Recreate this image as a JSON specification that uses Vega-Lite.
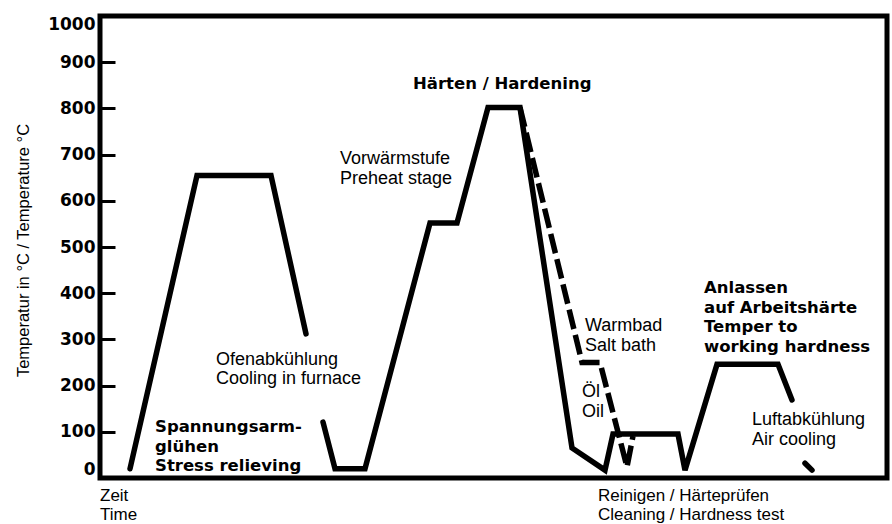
{
  "$schema": "https://vega.github.io/schema/vega-lite/v6.json",
  "width": 787,
  "height": 462,
  "autosize": "none",
  "padding": {"left": 100, "top": 16, "right": 5, "bottom": 46},
  "background": "white",
  "config": {
    "view": {"stroke": "black", "strokeWidth": 5},
    "font": "Liberation Sans"
  },
  "datasets": {
    "solid": [
      {"seg": "A", "t": 30, "temp": 20},
      {"seg": "A", "t": 97, "temp": 655},
      {"seg": "A", "t": 171, "temp": 655},
      {"seg": "A", "t": 206, "temp": 312},
      {"seg": "B", "t": 223, "temp": 121},
      {"seg": "B", "t": 235, "temp": 20},
      {"seg": "B", "t": 265, "temp": 20},
      {"seg": "B", "t": 330, "temp": 552},
      {"seg": "B", "t": 357, "temp": 552},
      {"seg": "B", "t": 388, "temp": 802},
      {"seg": "B", "t": 420, "temp": 802},
      {"seg": "B", "t": 472, "temp": 65},
      {"seg": "B", "t": 505, "temp": 17},
      {"seg": "B", "t": 513, "temp": 95},
      {"seg": "B", "t": 578, "temp": 95},
      {"seg": "B", "t": 585, "temp": 17},
      {"seg": "B", "t": 617, "temp": 246},
      {"seg": "B", "t": 678, "temp": 246},
      {"seg": "B", "t": 692, "temp": 169},
      {"seg": "C", "t": 705, "temp": 32},
      {"seg": "C", "t": 712, "temp": 17}
    ],
    "dashed": [
      {"seg": "D", "t": 420, "temp": 802},
      {"seg": "D", "t": 482, "temp": 250},
      {"seg": "D", "t": 500, "temp": 250},
      {"seg": "D", "t": 527, "temp": 24},
      {"seg": "D", "t": 533, "temp": 91}
    ],
    "labels": [
      {"t": 116, "temp": 256, "text": "Ofenabkühlung\nCooling in furnace"},
      {"t": 240, "temp": 690, "text": "Vorwärmstufe\nPreheat stage"},
      {"t": 485, "temp": 329, "text": "Warmbad\nSalt bath"},
      {"t": 482, "temp": 186, "text": "Öl\nOil"},
      {"t": 652, "temp": 125, "text": "Luftabkühlung\nAir cooling"}
    ],
    "bottomlabels": [
      {"t": 0, "temp": -40, "text": "Zeit\nTime"},
      {"t": 498, "temp": -40, "text": "Reinigen / Härteprüfen\nCleaning / Hardness test"}
    ],
    "boldlabels": [
      {"t": 55, "temp": 110, "text": "Spannungsarm-\nglühen\nStress relieving"},
      {"t": 313, "temp": 853, "text": "Härten / Hardening"},
      {"t": 604, "temp": 411, "text": "Anlassen\nauf Arbeitshärte\nTemper to\nworking hardness"}
    ]
  },
  "layer": [
    {
      "data": {"name": "solid"},
      "mark": {"type": "line", "color": "black", "strokeWidth": 5.5, "strokeCap": "round", "strokeJoin": "miter"},
      "encoding": {
        "x": {"field": "t", "type": "quantitative", "scale": {"domain": [0, 787], "nice": false}, "axis": null},
        "y": {
          "field": "temp", "type": "quantitative",
          "scale": {"domain": [0, 1000], "nice": false},
          "axis": {
            "title": "Temperatur in °C / Temperature °C",
            "values": [0, 100, 200, 300, 400, 500, 600, 700, 800, 900, 1000],
            "format": "d",
            "tickSize": -15, "tickWidth": 3, "tickColor": "black",
            "domain": false, "grid": false,
            "labelFont": "DejaVu Sans", "labelFontWeight": "bold", "labelFontSize": 17,
            "labelColor": "black", "labelPadding": 20, "labelFlush": true,
            "titleFont": "Liberation Sans", "titleFontSize": 16.5, "titleFontWeight": "normal",
            "titleColor": "black", "titleX": -77, "titleY": 234, "titleBaseline": "middle", "titleAlign": "center"
          }
        },
        "detail": {"field": "seg", "type": "nominal"}
      }
    },
    {
      "data": {"name": "dashed"},
      "mark": {"type": "line", "color": "black", "strokeWidth": 5.5, "strokeDash": [20, 6], "strokeJoin": "miter"},
      "encoding": {
        "x": {"field": "t", "type": "quantitative"},
        "y": {"field": "temp", "type": "quantitative"},
        "detail": {"field": "seg", "type": "nominal"}
      }
    },
    {
      "data": {"name": "labels"},
      "mark": {"type": "text", "align": "left", "baseline": "middle", "lineBreak": "\n", "font": "Liberation Sans", "fontSize": 18, "lineHeight": 19.5, "color": "black"},
      "encoding": {
        "x": {"field": "t", "type": "quantitative"},
        "y": {"field": "temp", "type": "quantitative"},
        "text": {"field": "text", "type": "nominal"}
      }
    },
    {
      "data": {"name": "bottomlabels"},
      "mark": {"type": "text", "align": "left", "baseline": "middle", "lineBreak": "\n", "font": "Liberation Sans", "fontSize": 17, "lineHeight": 19, "color": "black"},
      "encoding": {
        "x": {"field": "t", "type": "quantitative"},
        "y": {"field": "temp", "type": "quantitative"},
        "text": {"field": "text", "type": "nominal"}
      }
    },
    {
      "data": {"name": "boldlabels"},
      "mark": {"type": "text", "align": "left", "baseline": "middle", "lineBreak": "\n", "font": "DejaVu Sans", "fontWeight": "bold", "fontSize": 16.5, "lineHeight": 19.5, "color": "black"},
      "encoding": {
        "x": {"field": "t", "type": "quantitative"},
        "y": {"field": "temp", "type": "quantitative"},
        "text": {"field": "text", "type": "nominal"}
      }
    }
  ]
}
